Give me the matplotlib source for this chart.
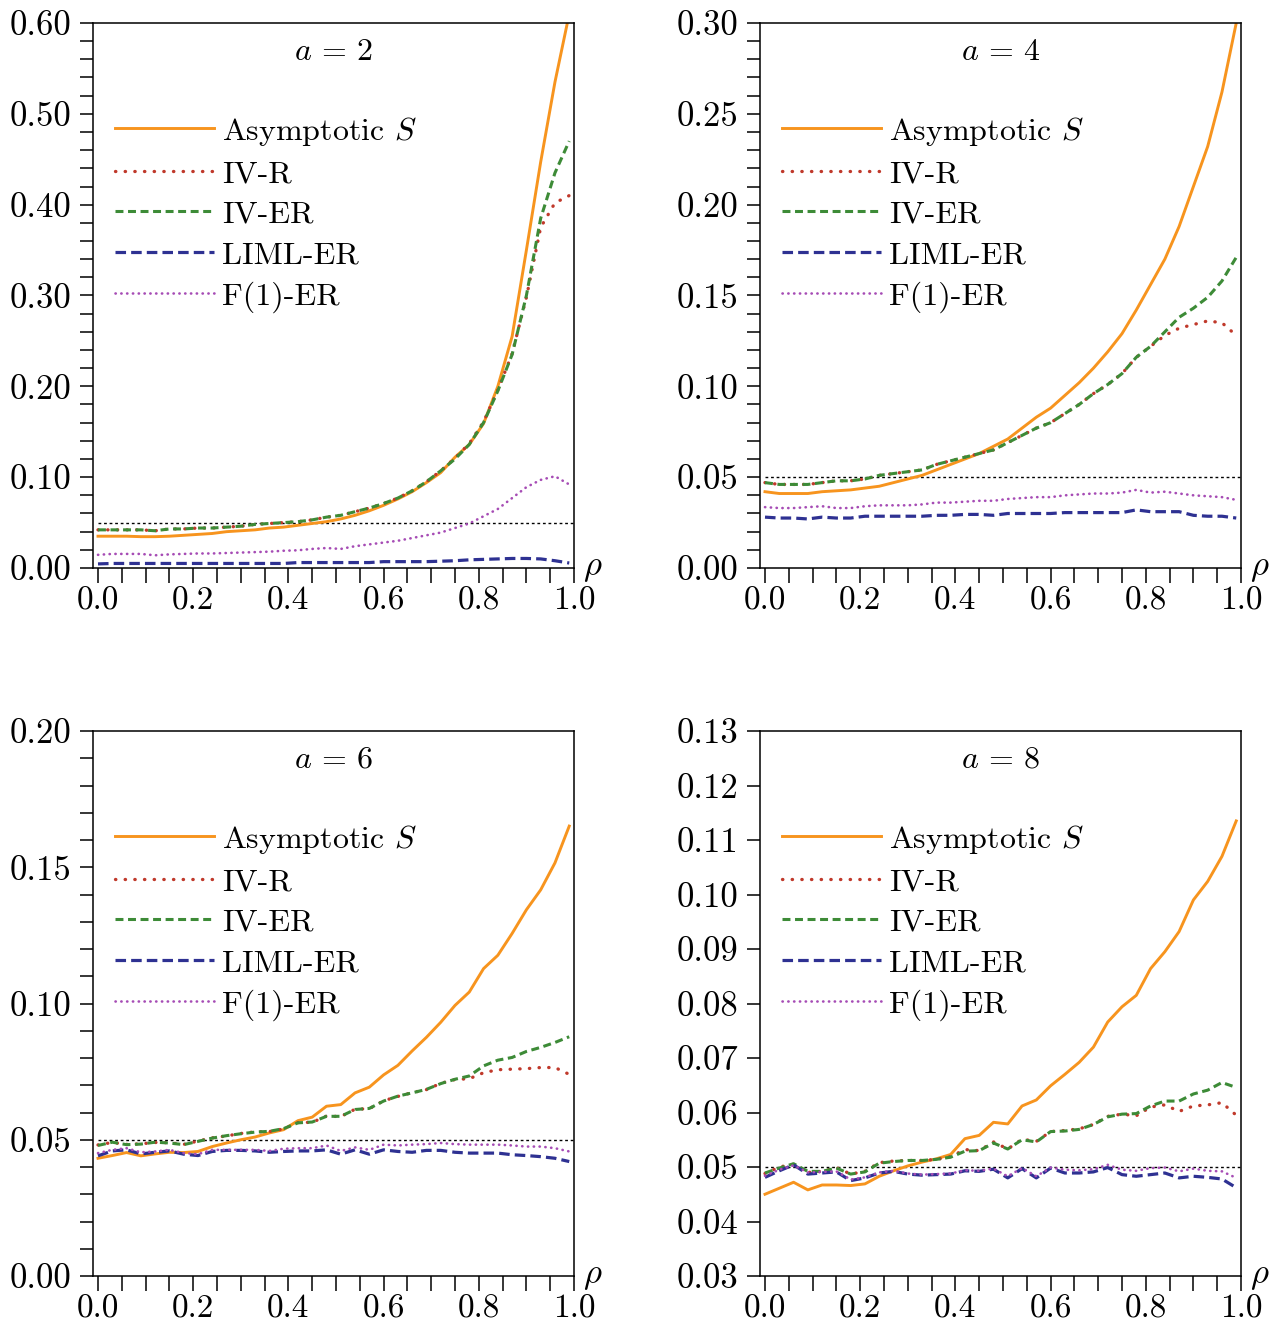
import numpy as np
import matplotlib.pyplot as plt
from matplotlib.ticker import MultipleLocator, FormatStrFormatter

plt.rcParams['font.family'] = 'serif'
plt.rcParams['font.serif'] = ['cmr10']
plt.rcParams['mathtext.fontset'] = 'cm'
plt.rcParams['axes.formatter.use_mathtext'] = True
plt.rcParams['font.size'] = 23

rho = [0.00, 0.03, 0.06, 0.09, 0.12, 0.15, 0.18, 0.21, 0.24, 0.27, 0.30, 0.33,
       0.36, 0.39, 0.42, 0.45, 0.48, 0.51, 0.54, 0.57, 0.60, 0.63, 0.66, 0.69,
       0.72, 0.75, 0.78, 0.81, 0.84, 0.87, 0.90, 0.93, 0.96, 0.99]

# a = 2
asym_a2 = [0.035, 0.035, 0.035, 0.0345, 0.0345, 0.035, 0.036, 0.037, 0.038, 0.040, 0.041, 0.042,
           0.044, 0.045, 0.047, 0.049, 0.051, 0.054, 0.058, 0.063, 0.069, 0.076, 0.084, 0.094,
           0.105, 0.122, 0.136, 0.159, 0.200, 0.255, 0.350, 0.447, 0.535, 0.610]
ivr_a2 = [0.042, 0.042, 0.042, 0.042, 0.041, 0.043, 0.043, 0.044, 0.044, 0.045, 0.046, 0.048,
          0.049, 0.050, 0.051, 0.053, 0.056, 0.058, 0.062, 0.066, 0.071, 0.077, 0.085, 0.095,
          0.107, 0.121, 0.137, 0.161, 0.196, 0.236, 0.298, 0.375, 0.402, 0.410]
iver_a2 = [0.042, 0.042, 0.042, 0.042, 0.041, 0.043, 0.043, 0.044, 0.044, 0.045, 0.046, 0.048,
           0.049, 0.050, 0.051, 0.053, 0.056, 0.058, 0.062, 0.066, 0.071, 0.077, 0.085, 0.095,
           0.107, 0.120, 0.136, 0.160, 0.195, 0.235, 0.300, 0.385, 0.435, 0.470]
liml_a2 = [0.0045, 0.005, 0.005, 0.005, 0.005, 0.005, 0.005, 0.005, 0.005, 0.005, 0.005, 0.005,
           0.005, 0.005, 0.006, 0.006, 0.006, 0.006, 0.006, 0.006, 0.007, 0.007, 0.007, 0.007,
           0.0075, 0.008, 0.009, 0.0095, 0.010, 0.0105, 0.0105, 0.010, 0.008, 0.0055]
f1_a2 = [0.0145, 0.0155, 0.0155, 0.0155, 0.014, 0.015, 0.0155, 0.016, 0.016, 0.0165, 0.017, 0.0175,
         0.018, 0.019, 0.0195, 0.021, 0.022, 0.021, 0.024, 0.026, 0.028, 0.030, 0.033, 0.036,
         0.039, 0.044, 0.049, 0.057, 0.065, 0.077, 0.089, 0.097, 0.101, 0.092]

# a = 4
asym_a4 = [0.042, 0.041, 0.041, 0.041, 0.042, 0.0425, 0.043, 0.044, 0.045, 0.047, 0.049, 0.051,
           0.054, 0.057, 0.060, 0.063, 0.067, 0.071, 0.077, 0.083, 0.088, 0.095, 0.102, 0.110,
           0.119, 0.129, 0.142, 0.156, 0.170, 0.188, 0.210, 0.232, 0.262, 0.300]
ivr_a4 = [0.047, 0.046, 0.046, 0.046, 0.047, 0.048, 0.048, 0.049, 0.051, 0.052, 0.053, 0.054,
          0.057, 0.059, 0.061, 0.063, 0.065, 0.069, 0.073, 0.077, 0.080, 0.085, 0.090, 0.096,
          0.101, 0.107, 0.116, 0.122, 0.128, 0.132, 0.134, 0.136, 0.135, 0.128]
iver_a4 = [0.047, 0.046, 0.046, 0.046, 0.047, 0.048, 0.048, 0.049, 0.051, 0.052, 0.053, 0.054,
           0.057, 0.059, 0.061, 0.063, 0.065, 0.069, 0.073, 0.077, 0.080, 0.085, 0.090, 0.096,
           0.101, 0.107, 0.116, 0.122, 0.130, 0.138, 0.143, 0.149, 0.158, 0.171]
liml_a4 = [0.028, 0.0275, 0.0275, 0.027, 0.028, 0.0275, 0.0275, 0.0285, 0.0285, 0.0285, 0.0285, 0.0285,
           0.029, 0.029, 0.0295, 0.0295, 0.029, 0.030, 0.030, 0.030, 0.030, 0.0305, 0.0305, 0.0305,
           0.0305, 0.0305, 0.032, 0.031, 0.031, 0.031, 0.029, 0.0285, 0.0285, 0.0275]
f1_a4 = [0.0335, 0.033, 0.033, 0.0335, 0.034, 0.033, 0.033, 0.034, 0.0345, 0.0345, 0.0345, 0.035,
         0.036, 0.036, 0.0365, 0.037, 0.037, 0.038, 0.0385, 0.039, 0.039, 0.040, 0.0405, 0.041,
         0.041, 0.0415, 0.043, 0.0415, 0.042, 0.041, 0.040, 0.0395, 0.039, 0.0375]

# a = 6
asym_a6 = [0.0432, 0.0442, 0.0453, 0.0441, 0.0448, 0.0454, 0.0453, 0.0457, 0.0475, 0.0488, 0.0500, 0.0510,
           0.0525, 0.0537, 0.0570, 0.0583, 0.0623, 0.0629, 0.0672, 0.0693, 0.0738, 0.0773, 0.0826, 0.0876,
           0.0931, 0.0993, 0.1042, 0.1128, 0.1177, 0.1257, 0.1344, 0.1417, 0.1516, 0.1651]
ivr_a6 = [0.0481, 0.0490, 0.0483, 0.0485, 0.0490, 0.0489, 0.0483, 0.0495, 0.0507, 0.0514, 0.0523, 0.0529,
          0.0530, 0.0540, 0.0563, 0.0564, 0.0587, 0.0585, 0.0612, 0.0614, 0.0643, 0.0659, 0.0673, 0.0684,
          0.0707, 0.0721, 0.0724, 0.0746, 0.0757, 0.0759, 0.0761, 0.0765, 0.0765, 0.0740]
iver_a6 = [0.0479, 0.0491, 0.0482, 0.0484, 0.0491, 0.0488, 0.0482, 0.0494, 0.0506, 0.0515, 0.0522, 0.0528,
           0.0531, 0.0541, 0.0562, 0.0565, 0.0586, 0.0586, 0.0611, 0.0615, 0.0642, 0.0660, 0.0672, 0.0685,
           0.0706, 0.0722, 0.0734, 0.0771, 0.0792, 0.0802, 0.0824, 0.0839, 0.0857, 0.0878]
liml_a6 = [0.0441, 0.0459, 0.0463, 0.0448, 0.0454, 0.0459, 0.0447, 0.0442, 0.0457, 0.0461, 0.0461, 0.0459,
           0.0454, 0.0457, 0.0459, 0.0459, 0.0463, 0.0447, 0.0463, 0.0447, 0.0463, 0.0457, 0.0454, 0.0461,
           0.0461, 0.0454, 0.0451, 0.0451, 0.0451, 0.0445, 0.0442, 0.0438, 0.0432, 0.0420]
f1_a6 = [0.0451, 0.0463, 0.0469, 0.0454, 0.0457, 0.0463, 0.0451, 0.0447, 0.0463, 0.0463, 0.0463, 0.0463,
         0.0459, 0.0467, 0.0469, 0.0469, 0.0479, 0.0459, 0.0472, 0.0463, 0.0482, 0.0479, 0.0482, 0.0484,
         0.0488, 0.0484, 0.0482, 0.0482, 0.0482, 0.0479, 0.0475, 0.0475, 0.0469, 0.0457]

# a = 8
asym_a8 = [0.0450, 0.0461, 0.0472, 0.0458, 0.0467, 0.0467, 0.0466, 0.0469, 0.0483, 0.0493, 0.0502, 0.0509,
           0.0515, 0.0523, 0.0552, 0.0558, 0.0582, 0.0579, 0.0612, 0.0623, 0.0649, 0.0670, 0.0692, 0.0720,
           0.0766, 0.0794, 0.0815, 0.0864, 0.0895, 0.0932, 0.0990, 0.1024, 0.1070, 0.1135]
ivr_a8 = [0.0488, 0.0500, 0.0505, 0.0490, 0.0492, 0.0499, 0.0487, 0.0492, 0.0508, 0.0511, 0.0512, 0.0512,
          0.0514, 0.0519, 0.0532, 0.0530, 0.0546, 0.0533, 0.0551, 0.0547, 0.0565, 0.0567, 0.0570, 0.0578,
          0.0593, 0.0597, 0.0594, 0.0610, 0.0614, 0.0602, 0.0612, 0.0614, 0.0618, 0.0595]
iver_a8 = [0.0489, 0.0498, 0.0506, 0.0492, 0.0492, 0.0498, 0.0487, 0.0491, 0.0507, 0.0510, 0.0512, 0.0512,
           0.0514, 0.0518, 0.0529, 0.0530, 0.0544, 0.0533, 0.0550, 0.0546, 0.0565, 0.0566, 0.0569, 0.0578,
           0.0592, 0.0597, 0.0598, 0.0612, 0.0621, 0.0621, 0.0634, 0.0641, 0.0655, 0.0646]
liml_a8 = [0.0481, 0.0493, 0.0504, 0.0487, 0.0489, 0.0491, 0.0475, 0.0480, 0.0489, 0.0492, 0.0487, 0.0485,
           0.0486, 0.0487, 0.0493, 0.0492, 0.0496, 0.0480, 0.0497, 0.0480, 0.0498, 0.0489, 0.0489, 0.0491,
           0.0499, 0.0486, 0.0483, 0.0486, 0.0489, 0.0480, 0.0483, 0.0481, 0.0478, 0.0462]
f1_a8 = [0.0484, 0.0495, 0.0503, 0.0490, 0.0491, 0.0492, 0.0477, 0.0481, 0.0490, 0.0493, 0.0488, 0.0486,
         0.0487, 0.0488, 0.0494, 0.0493, 0.0497, 0.0483, 0.0498, 0.0483, 0.0499, 0.0495, 0.0494, 0.0496,
         0.0504, 0.0495, 0.0493, 0.0498, 0.0499, 0.0492, 0.0497, 0.0493, 0.0492, 0.0480]

labels = ['Asymptotic $S$', 'IV-R', 'IV-ER', 'LIML-ER', 'F(1)-ER']
colors = ['#F7941E', '#C0392B', '#3D8B37', '#2E3192', '#A64CB5']
styles = ['-', (0, (0.1, 2.8)), (0, (2.6, 1.5)), (0, (3.3, 1.6)), (0, (0.1, 2.1))]
widths = [2.1, 2.4, 2.2, 2.3, 1.9]
caps = ['butt', 'round', 'butt', 'butt', 'round']

panels = [
    ('2', [asym_a2, ivr_a2, iver_a2, liml_a2, f1_a2], (0.0, 0.60), 0.10, 0.02),
    ('4', [asym_a4, ivr_a4, iver_a4, liml_a4, f1_a4], (0.0, 0.30), 0.05, 0.01),
    ('6', [asym_a6, ivr_a6, iver_a6, liml_a6, f1_a6], (0.0, 0.20), 0.05, 0.01),
    ('8', [asym_a8, ivr_a8, iver_a8, liml_a8, f1_a8], (0.03, 0.13), 0.01, 0.01),
]

W, H = 1271, 1325
boxes = [(93, 23), (760, 23), (93, 731), (760, 731)]
bw, bh = 481, 545

fig = plt.figure(figsize=(W / 100, H / 100), dpi=100)

for (aval, series, ylim, major, minor), (x0, y0) in zip(panels, boxes):
    ax = fig.add_axes([x0 / W, 1 - (y0 + bh) / H, bw / W, bh / H])
    for vals, lab, c, ls, lw, cap in zip(series, labels, colors, styles, widths, caps):
        ax.plot(rho, vals, color=c, ls=ls, lw=lw, label=lab, dash_capstyle=cap)
    ax.plot([0, 1], [0.05, 0.05], color='black', lw=1.0, ls=(0, (2, 2)), zorder=1)

    ax.set_xlim(-0.0105, 1.0)
    ax.set_ylim(*ylim)
    ax.xaxis.set_major_locator(MultipleLocator(0.2))
    ax.xaxis.set_minor_locator(MultipleLocator(0.05))
    ax.yaxis.set_major_locator(MultipleLocator(major))
    ax.yaxis.set_minor_locator(MultipleLocator(minor))
    ax.xaxis.set_major_formatter(FormatStrFormatter('%.1f'))
    ax.yaxis.set_major_formatter(FormatStrFormatter('%.2f'))
    ax.tick_params(axis='y', which='both', direction='out', length=9.5, width=1.1, pad=6,
                   labelsize=25)
    ax.tick_params(axis='x', which='both', direction='out', length=11, width=1.1, pad=2,
                   labelsize=24)
    for s in ax.spines.values():
        s.set_linewidth(1.1)

    ax.text(0.5, 0.947, '$a$ = ' + aval, transform=ax.transAxes, ha='center', va='center')
    ax.text(1.018, 0.0, r'$\rho$', transform=ax.transAxes, ha='left', va='center', fontsize=25)
    ax.legend(loc='upper left', bbox_to_anchor=(0.046, 0.832), frameon=False,
              handlelength=3.1, handletextpad=0.25, labelspacing=0.38,
              borderaxespad=0, borderpad=0)

fig.savefig('out.png', dpi=100)
